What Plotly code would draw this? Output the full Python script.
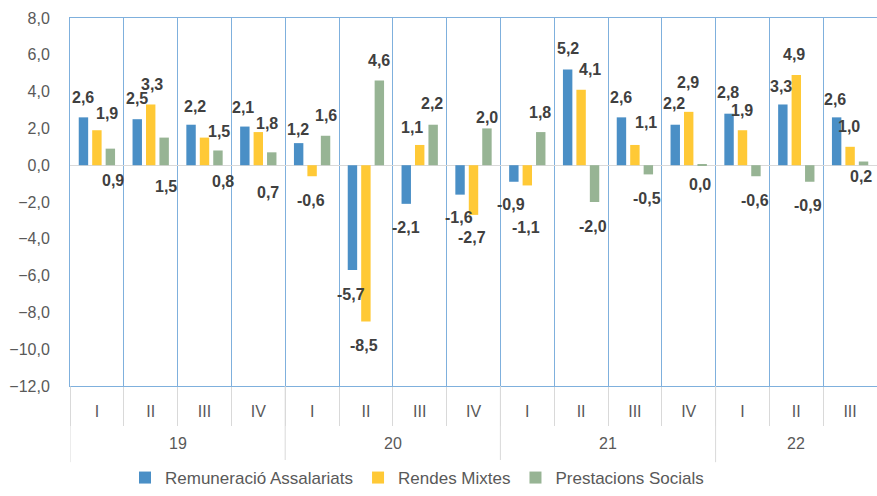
import plotly.graph_objects as go

# ---- data ----
quarters = ["I", "II", "III", "IV", "I", "II", "III", "IV", "I", "II", "III", "IV", "I", "II", "III"]
years = ["19", "20", "21", "22"]
year_counts = [4, 4, 4, 3]

remuneracio = [2.6, 2.5, 2.2, 2.1, 1.2, -5.7, -2.1, -1.6, -0.9, 5.2, 2.6, 2.2, 2.8, 3.3, 2.6]
rendes = [1.9, 3.3, 1.5, 1.8, -0.6, -8.5, 1.1, -2.7, -1.1, 4.1, 1.1, 2.9, 1.9, 4.9, 1.0]
prestacions = [0.9, 1.5, 0.8, 0.7, 1.6, 4.6, 2.2, 2.0, 1.8, -2.0, -0.5, 0.04, -0.6, -0.9, 0.2]

series_names = ["Remuneració Assalariats", "Rendes Mixtes", "Prestacions Socials"]
y_ticks = [8, 6, 4, 2, 0, -2, -4, -6, -8, -10, -12]

# ---- label placement offsets (pixels) ----
DX = [
    [-14, -14, -10, -15, -14, -15, -14, -15, -16, -13, -14, -15, -15, -15, -15],
    [10, 1, 14, 9, -1, -2, -8, -2, -1, 9, 11, -1, -1, -2, -1],
    [16, 15, 18, 10, 14, 13, 12, 13, 13, 12, 12, 11, 12, 12, 11],
]
DY = [
    [20, 21, 18, 19, 14, -24, -24, -23, -23, 21, 20, 21, 21, 18, 18],
    [17, 20, 6, 9, -24, -24, 17, -23, -42, 20, 22, 29, 20, 21, 20],
    [-32, -49, -31, -40, 20, 20, 21, 11, 20, -24, -24, -20, -24, -24, -15],
]

colors = ["#4A8FC6", "#FFC936", "#97B494"]
BLUE_LINE = "#7FB0DD"
GRAY = "#595959"
LABEL = "#404040"
FONT = "Liberation Sans, Arial, sans-serif"

idx = list(range(len(quarters)))
all_series = [remuneracio, rendes, prestacions]

fig = go.Figure()
for name, vals, col in zip(series_names, all_series, colors):
    fig.add_trace(go.Bar(x=idx, y=vals, name=name, marker=dict(color=col, line=dict(width=0))))

def fmt(v):
    return f"{v:.1f}".replace(".", ",").replace("-0,0", "0,0")

annotations = []
for s, vals in enumerate(all_series):
    for i, v in enumerate(vals):
        annotations.append(dict(
            x=i, y=v, xref="x", yref="y", text=fmt(v), showarrow=False,
            xshift=DX[s][i], yshift=DY[s][i],
            font=dict(family=FONT, size=16, color=LABEL, weight="bold"),
        ))

# year labels and dividers
start = 0
shapes = []
for yr, n in zip(years, year_counts):
    annotations.append(dict(
        x=start + (n - 1) / 2, y=-0.155, xref="x", yref="paper", text=yr,
        showarrow=False, font=dict(family=FONT, size=16, color=GRAY),
        yanchor="middle",
    ))
    shapes.append(dict(type="line", xref="x", yref="paper",
                       x0=start - 0.5, x1=start - 0.5, y0=0, y1=-0.207,
                       line=dict(color="#D9D9D9", width=1)))
    start += n

fig.update_layout(
    width=877, height=496,
    margin=dict(l=70, r=0, t=18, b=110),
    plot_bgcolor="white", paper_bgcolor="white",
    separators=",.",
    barmode="group", bargap=0.25, bargroupgap=0.3,
    font=dict(family=FONT, color=GRAY),
    annotations=annotations, shapes=shapes,
    legend=dict(orientation="h", x=0.43, xanchor="center", y=-0.25, yanchor="middle",
                font=dict(family=FONT, size=17, color=GRAY), traceorder="normal"),
    showlegend=True,
)

fig.update_xaxes(
    range=[-0.5, len(quarters) - 0.5],
    tickmode="array", tickvals=idx, ticktext=quarters,
    showgrid=False, ticks="", ticklabelstandoff=11,
    tickfont=dict(family=FONT, size=16, color=GRAY),
    showline=True, linecolor=BLUE_LINE, linewidth=1, mirror=True,
    zeroline=False,
    minor=dict(tickvals=[i - 0.5 for i in range(len(quarters) + 1)],
               showgrid=True, gridcolor=BLUE_LINE, gridwidth=1,
               ticks="outside", ticklen=39, tickcolor="#D9D9D9", tickwidth=1),
)
fig.update_yaxes(
    range=[-12, 8], tickmode="array", tickvals=y_ticks, tickformat=".1f",
    showgrid=False, zeroline=True, zerolinecolor="#D9D9D9", zerolinewidth=1,
    showline=True, linecolor=BLUE_LINE, linewidth=1, mirror=True,
    ticks="", ticklabelstandoff=16,
    tickfont=dict(family=FONT, size=16, color=GRAY),
)

fig.write_html("out.html", config={"displayModeBar": False},
               post_script="document.body.style.margin='0px';document.body.style.overflow='hidden';")
